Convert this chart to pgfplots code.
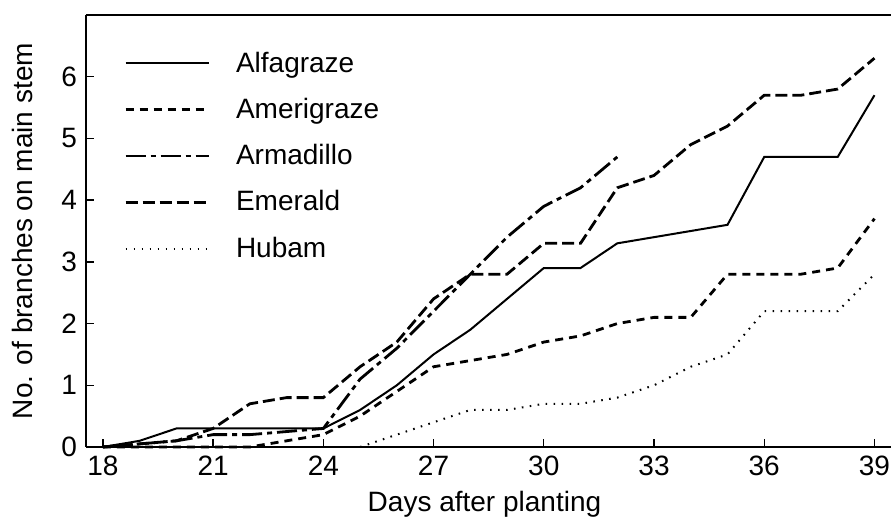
\documentclass[border=0pt]{standalone}
\usepackage{fontspec}
\setmainfont{Liberation Sans}
\usepackage{pgfplots}
\pgfplotsset{compat=1.18}
\begin{document}
\begin{tikzpicture}
\begin{axis}[
  scale only axis, width=402.5pt, height=216pt,
  xmin=17.54, xmax=39.45, ymin=0, ymax=7,
  axis x line*=box, axis y line*=left,
  tick pos=left, tick align=inside, major tick length=4pt,
  xtick={18,21,...,39}, ytick={0,1,...,6},
  axis line style={line width=0.9pt},
  tick style={line width=0.7pt, black},
  clip=false,
  font=\fontsize{14}{16}\selectfont,
  /pgf/number format/assume math mode=true,
  ticklabel style={font=\fontsize{14}{16}\selectfont},
  xticklabel style={yshift=-1pt},
  yticklabel style={xshift=-1pt},
  xlabel={Days after planting},
  ylabel={No. of branches on main stem},
  every axis x label/.style={at={(axis description cs:0.495,-0.132)}, anchor=center},
  every axis y label/.style={at={(axis description cs:-0.0795,0.5)}, rotate=90, anchor=center},
  legend cell align=left,
  legend style={draw=none, fill=none, at={(axis description cs:0.047,0.925)}, anchor=north west,
    row sep=7.5pt, column sep=11pt, font=\fontsize{14}{16}\selectfont, inner sep=0pt},
  legend image code/.code={\draw[#1] (0pt,0pt) -- (41.5pt,0pt);},
]
\addplot[black, line width=1pt] coordinates {
(18,0) (19,0.1) (20,0.3) (21,0.3) (22,0.3) (23,0.3) (24,0.3) (25,0.6) (26,1.0) (27,1.5) (28,1.9) (29,2.4) (30,2.9) (31,2.9) (32,3.3) (33,3.4) (34,3.5) (35,3.6) (36,4.7) (37,4.7) (38,4.7) (39,5.7)};
\addlegendentry{Alfagraze}
\addplot[black, line width=1.4pt, dash pattern=on 4pt off 3pt] coordinates {
(18,0) (19,0) (20,0) (21,0) (22,0) (23,0.1) (24,0.2) (25,0.5) (26,0.9) (27,1.3) (28,1.4) (29,1.5) (30,1.7) (31,1.8) (32,2.0) (33,2.1) (34,2.1) (35,2.8) (36,2.8) (37,2.8) (38,2.9) (39,3.7)};
\addlegendentry{Amerigraze}
\addplot[black, line width=1.4pt, dash pattern=on 10pt off 2.5pt on 2.5pt off 2.5pt] coordinates {
(18,0) (19,0.05) (20,0.1) (21,0.2) (22,0.2) (23,0.25) (24,0.3) (25,1.1) (26,1.6) (27,2.2) (28,2.8) (29,3.4) (30,3.9) (31,4.2) (32,4.7)};
\addlegendentry{Armadillo}
\addplot[black, line width=1.4pt, dash pattern=on 6pt off 2.5pt] coordinates {
(18,0) (19,0.05) (20,0.1) (21,0.3) (22,0.7) (23,0.8) (24,0.8) (25,1.3) (26,1.7) (27,2.4) (28,2.8) (29,2.8) (30,3.3) (31,3.3) (32,4.2) (33,4.4) (34,4.9) (35,5.2) (36,5.7) (37,5.7) (38,5.8) (39,6.3)};
\addlegendentry{Emerald}
\addplot[black, line width=1pt, dash pattern=on 0.8pt off 3.2pt] coordinates {
(25,0) (26,0.2) (27,0.4) (28,0.6) (29,0.6) (30,0.7) (31,0.7) (32,0.8) (33,1.0) (34,1.3) (35,1.5) (36,2.2) (37,2.2) (38,2.2) (39,2.8)};
\addlegendentry{Hubam}
\end{axis}
\pgfresetboundingbox
\path ([xshift=-43pt,yshift=-35pt]current axis.south west) rectangle ([yshift=7.5pt]current axis.north east);
\end{tikzpicture}
\end{document}
